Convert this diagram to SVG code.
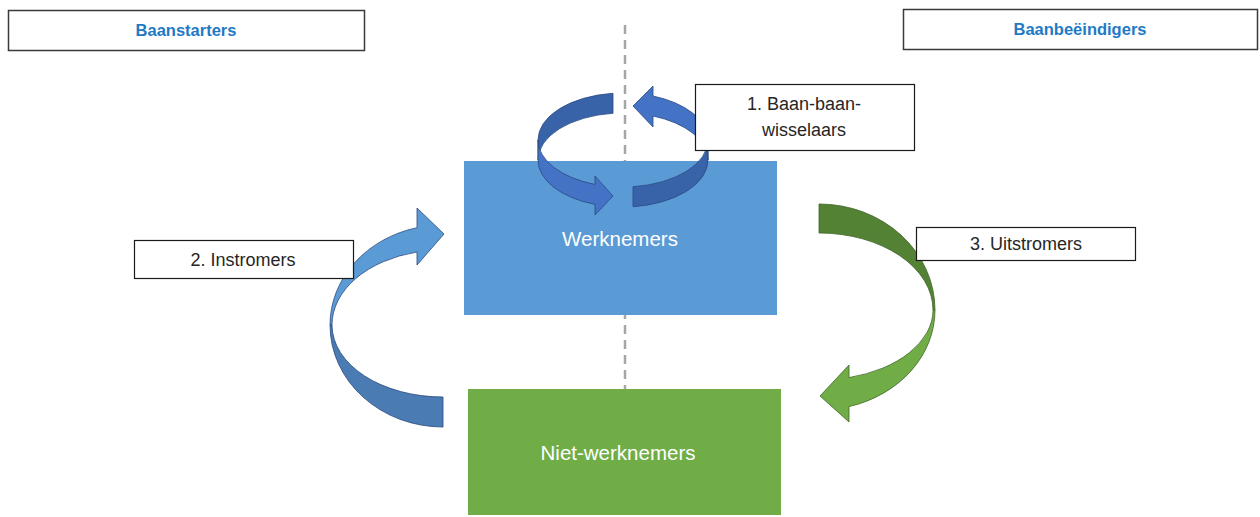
<svg xmlns="http://www.w3.org/2000/svg" width="1260" height="517" viewBox="0 0 1260 517">
  <style>
    .head { fill: #ffffff; stroke: #3a3a3a; stroke-width: 1.5; }
    .headtxt { font-family: "Liberation Sans", Arial, sans-serif; font-weight: bold; font-size: 16.5px; fill: #1f7ac6; text-anchor: middle; }
    .label { fill: #ffffff; stroke: #1a1a1a; stroke-width: 1.2; }
    .labeltxt { font-family: "Liberation Sans", Arial, sans-serif; font-size: 18px; fill: #262626; text-anchor: middle; }
    .nodetxt { font-family: "Liberation Sans", Arial, sans-serif; font-size: 20.5px; fill: #ffffff; text-anchor: middle; }
    .blue-edge { stroke: #2a4a80; stroke-width: 0.8; stroke-linejoin: round; }
    .green-edge { stroke: #3f6628; stroke-width: 0.8; stroke-linejoin: round; }
  </style>

  <rect width="1260" height="517" fill="#ffffff"/>

  <!-- divider between starters and leavers -->
  <line x1="625" y1="25" x2="625" y2="390" stroke="#a6a6a6" stroke-width="2.5" stroke-dasharray="9 6"/>

  <!-- column headers -->
  <g id="baanstarters">
    <rect class="head" x="8.5" y="10.5" width="356" height="40"/>
    <text class="headtxt" x="186" y="36">Baanstarters</text>
  </g>
  <g id="baanbeeindigers">
    <rect class="head" x="903.5" y="9.5" width="354" height="40"/>
    <text class="headtxt" x="1080" y="35">Baanbeëindigers</text>
  </g>

  <!-- state nodes -->
  <g id="werknemers">
    <rect x="464" y="161" width="313" height="154" fill="#5b9bd5"/>
    <text class="nodetxt" x="620" y="246">Werknemers</text>
  </g>
  <g id="niet-werknemers">
    <rect x="468" y="389" width="313" height="126" fill="#70ad47"/>
    <text class="nodetxt" x="618" y="460">Niet-werknemers</text>
  </g>

  <g id="connectors">
    <!-- 1. job-to-job loop: left half -->
    <path class="blue-edge" fill="#3963a8" d="M613,93.3 A85 47 0 0 0 538,140 L538,160 A85 47 0 0 1 613,113.3 Z"/>
    <path class="blue-edge" fill="#4472c4" d="M538,140 A85 47 0 0 0 595,184.4 L595,176 L613,196 L595,215 L595,204.4 A85 47 0 0 1 538,160 Z"/>
    <!-- 1. job-to-job loop: right half -->
    <path class="blue-edge" fill="#3963a8" d="M633,186.7 A85 47 0 0 0 708,140 L708,160 A85 47 0 0 1 633,206.7 Z"/>
    <path class="blue-edge" fill="#4472c4" d="M708,140 A85 47 0 0 0 653,96 L653,86 L633,106 L653,127 L653,116 A85 47 0 0 1 708,160 Z"/>

    <!-- 2. inflow: non-employed to employed -->
    <path class="blue-edge" fill="#4a7cb3" d="M330,325 A113 102 0 0 0 443,427 L443,397 A111 72 0 0 1 332,325 Z"/>
    <path class="blue-edge" fill="#5b9bd5" d="M330,325 A113 100 0 0 1 417,227.7 L417,208 L444,234 L417,265 L417,252 A111 75 0 0 0 332,325 Z"/>

    <!-- 3. outflow: employed to non-employed -->
    <path class="green-edge" fill="#548235" d="M819,204 A116 106 0 0 1 935,310 L933,310 A114 77 0 0 0 819,233 Z"/>
    <path class="green-edge" fill="#70ad47" d="M935,310 A116 100 0 0 1 849,406.6 L849,422 L820,396 L849,365 L849,377.6 A114 70 0 0 0 933,310 Z"/>
  </g>

  <!-- flow labels -->
  <g id="label-baan-baan">
    <rect class="label" x="695.5" y="84.5" width="219" height="66"/>
    <text class="labeltxt" x="804" y="110">1. Baan-baan-</text>
    <text class="labeltxt" x="804" y="136">wisselaars</text>
  </g>
  <g id="label-instromers">
    <rect class="label" x="134.5" y="240.5" width="219" height="38"/>
    <text class="labeltxt" x="243" y="266">2. Instromers</text>
  </g>
  <g id="label-uitstromers">
    <rect class="label" x="916.5" y="227.5" width="219" height="33"/>
    <text class="labeltxt" x="1026" y="250">3. Uitstromers</text>
  </g>
</svg>
